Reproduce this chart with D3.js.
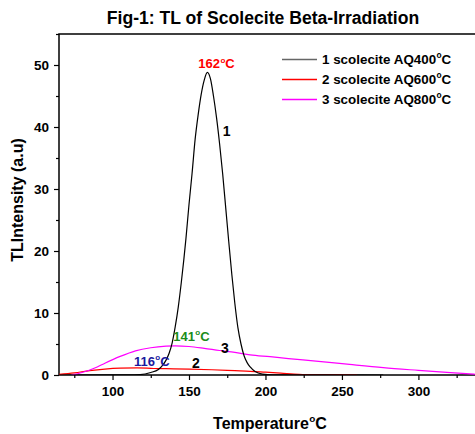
<!DOCTYPE html>
<html>
<head>
<meta charset="utf-8">
<script src="https://cdn.jsdelivr.net/npm/d3@7"></script>
<style>
  body { margin: 0; background: #fff; }
  svg { font-family: Arial, "Liberation Sans", sans-serif; font-weight: bold; }
</style>
</head>
<body>
<svg id="chart" width="475" height="434"></svg>
<script>
// curve 1 : scolecite AQ400 C
const temp1 = [65, 100, 118, 125, 130, 132, 135, 137, 139, 141, 143, 145, 148, 150, 152, 154, 156, 158, 160, 162,
  164, 166, 168, 170, 172, 174, 176, 178, 180, 182, 184, 186, 188, 190, 193, 198, 205, 240, 277];
const tl1 = [0, 0.02, 0.08, 0.4, 0.9, 1.34, 2.4, 3.5, 5.2, 7.8, 11, 15, 22, 27.5, 32.5, 38, 42, 45.3, 47.6, 48.8,
  47.8, 45, 41.5, 37.3, 32.5, 27, 21.5, 16.2, 11.5, 7.6, 5, 3.1, 2, 1.3, 0.6, 0.15, 0.03, 0.01, 0];

// curve 2 : scolecite AQ600 C
const temp2 = [65, 75, 85, 95, 105, 116, 127, 140, 150, 165, 180, 190, 200, 210, 222, 235, 250, 260];
const tl2 = [0.1, 0.35, 0.7, 0.95, 1.1, 1.15, 1.05, 1.0, 0.95, 0.85, 0.7, 0.6, 0.45, 0.3, 0.12, 0.04, 0.01, 0];

// curve 3 : scolecite AQ800 C
const temp3 = [73, 80, 90, 95, 105, 115, 125, 135, 141, 150, 160, 170, 180, 190, 203, 215, 233, 255, 277, 300, 321, 337];
const tl3 = [0, 0.4, 1.3, 1.9, 3.0, 3.9, 4.4, 4.65, 4.7, 4.6, 4.3, 3.95, 3.65, 3.25, 2.95, 2.65, 2.25, 1.7, 1.18, 0.75, 0.38, 0.12];

const xMajor = [100, 150, 200, 250, 300];
const xMinor = [75, 125, 175, 225, 275, 325];
const yMajor = [0, 10, 20, 30, 40, 50];
const yMinor = [5, 15, 25, 35, 45, 55];

const seriesNames = ["1 scolecite AQ400", "2 scolecite AQ600", "3 scolecite AQ800"];
const seriesColors = ["#000000", "#ff0000", "#ff00ff"];
const legendColors = ["#666666", "#ff0000", "#ff00ff"];
const peakTemps = [162, 116, 141];

const plotLeft = 59, plotRight = 475, plotTop = 34, plotBottom = 375;

const svg = d3.select("#chart");

const x = d3.scaleLinear().domain([65, 337]).range([plotLeft, plotRight]);
const y = d3.scaleLinear().domain([0, 55]).range([plotBottom, plotTop]);

svg.append("defs").append("clipPath").attr("id", "plotClip")
  .append("rect")
  .attr("x", plotLeft).attr("y", plotTop - 2)
  .attr("width", plotRight - plotLeft).attr("height", plotBottom - plotTop + 2);

// helper: text with superscript "o" then "C"
function degText(sel, base, fs) {
  sel.attr("font-size", fs);
  sel.append("tspan").text(base);
  sel.append("tspan").attr("font-size", fs * 0.62).attr("dy", -fs * 0.42).attr("dx", fs * 0.03).text("o");
  sel.append("tspan").attr("dy", fs * 0.42).text("C");
}

// title
svg.append("text")
  .attr("x", 263).attr("y", 24)
  .attr("text-anchor", "middle")
  .attr("font-size", 17.6)
  .text("Fig-1: TL of Scolecite Beta-Irradiation");

// x axis major / minor
const gx = svg.append("g")
  .attr("transform", "translate(0," + plotBottom + ")")
  .call(d3.axisBottom(x).tickValues(xMajor).tickSize(5).tickPadding(6).tickFormat(d3.format("d")));
gx.select(".domain").remove();
gx.selectAll("text").attr("font-size", 13.5).attr("font-family", null).attr("font-weight", "bold");
gx.selectAll("line").attr("stroke-width", 1.2);

const gxm = svg.append("g")
  .attr("transform", "translate(0," + plotBottom + ")")
  .call(d3.axisBottom(x).tickValues(xMinor).tickSize(3).tickFormat(""));
gxm.select(".domain").remove();
gxm.selectAll("line").attr("stroke-width", 1.2);

// y axis major / minor
const gy = svg.append("g")
  .attr("transform", "translate(" + plotLeft + ",0)")
  .call(d3.axisLeft(y).tickValues(yMajor).tickSize(5).tickPadding(5).tickFormat(d3.format("d")));
gy.select(".domain").remove();
gy.selectAll("text").attr("font-size", 13.5).attr("font-family", null).attr("font-weight", "bold");
gy.selectAll("line").attr("stroke-width", 1.2);

const gym = svg.append("g")
  .attr("transform", "translate(" + plotLeft + ",0)")
  .call(d3.axisLeft(y).tickValues(yMinor).tickSize(3).tickFormat(""));
gym.select(".domain").remove();
gym.selectAll("line").attr("stroke-width", 1.2);

// frame: left, bottom, top
svg.append("path")
  .attr("d", "M" + plotRight + "," + plotTop + "H" + plotLeft + "V" + plotBottom + "H" + plotRight)
  .attr("fill", "none")
  .attr("stroke", "#000")
  .attr("stroke-width", 1.5);

// curves
const line = d3.line()
  .x(d => x(d[0]))
  .y(d => y(d[1]))
  .curve(d3.curveMonotoneX);

const series = [
  d3.zip(temp1, tl1),
  d3.zip(temp2, tl2),
  d3.zip(temp3, tl3)
];

const plot = svg.append("g").attr("clip-path", "url(#plotClip)");
[1, 2, 0].forEach(i => {
  plot.append("path")
    .datum(series[i])
    .attr("fill", "none")
    .attr("stroke", seriesColors[i])
    .attr("stroke-width", 1.2)
    .attr("d", line);
});

// peak annotations
const peakColors = ["#ff0000", "#1a1a9e", "#1a8c1a"];
const peakVal = i => series[i].find(d => d[0] === peakTemps[i])[1];

degText(svg.append("text")
  .attr("x", x(peakTemps[0]) - 9).attr("y", y(peakVal(0)) - 4)
  .attr("fill", peakColors[0]), String(peakTemps[0]), 13);

degText(svg.append("text")
  .attr("x", x(peakTemps[1]) - 3).attr("y", y(peakVal(1)) - 2)
  .attr("fill", peakColors[1]), String(peakTemps[1]), 13);

degText(svg.append("text")
  .attr("x", x(peakTemps[2]) - 2).attr("y", y(peakVal(2)) - 5)
  .attr("fill", peakColors[2]), String(peakTemps[2]), 13);

// curve numbers
svg.append("text").attr("x", x(172)).attr("y", y(38.5)).attr("font-size", 14).text("1");
svg.append("text").attr("x", x(152)).attr("y", y(1.1)).attr("font-size", 14).text("2");
svg.append("text").attr("x", x(171)).attr("y", y(3.5)).attr("font-size", 14).text("3");

// legend
const legend = svg.append("g");
seriesNames.forEach((name, i) => {
  const ly = 59.5 + i * 20;
  legend.append("line")
    .attr("x1", 282).attr("x2", 317)
    .attr("y1", ly).attr("y2", ly)
    .attr("stroke", legendColors[i])
    .attr("stroke-width", 1.5);
  degText(legend.append("text")
    .attr("x", 322).attr("y", ly + 4.5), name, 13.4);
});

// axis titles
degText(svg.append("text")
  .attr("x", 270).attr("y", 429)
  .attr("text-anchor", "middle"), "Temperature", 16);

svg.append("text")
  .attr("transform", "translate(23,200) rotate(-90)")
  .attr("text-anchor", "middle")
  .attr("font-size", 16)
  .text("TLIntensity (a.u)");
</script>
</body>
</html>
